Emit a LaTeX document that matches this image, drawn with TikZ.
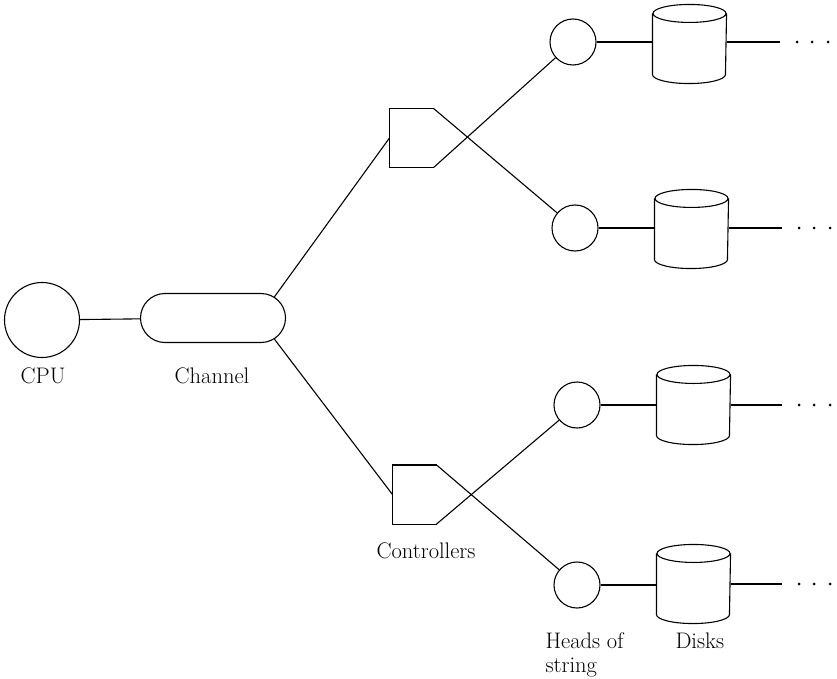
\documentclass[tikz,border=0pt]{standalone}
\usetikzlibrary{shapes.geometric,shapes.misc}
\begin{document}
\begin{tikzpicture}[x=1pt,y=-1pt,line width=1.1pt,
  head/.style={circle,draw,minimum size=46pt,inner sep=0pt},
  cpu/.style={circle,draw,minimum size=75pt,inner sep=0pt},
  disk/.style={rectangle,minimum width=73pt,minimum height=78pt,inner sep=0pt},
  ctrl/.style={rectangle,minimum width=43pt,minimum height=58pt,inner sep=0pt},
  chan/.style={rounded rectangle,draw,minimum width=145pt,minimum height=49pt,inner sep=0pt},
  lbl/.style={font=\fontsize{22.5}{24}\selectfont,inner sep=0pt,anchor=base},
  dot/.style={circle,fill,inner sep=0pt,minimum size=3pt}]
\useasboundingbox (0,0) rectangle (837,679);
% main nodes
\node[cpu] (cpu) at (42,320) {};
\node[chan] (ch) at (213,318) {};
\node[ctrl] (c1) at (411.5,138) {};
\node[ctrl] (c2) at (414.5,494.5) {};
\node[head] (h1) at (573,42) {};
\node[head] (h2) at (575,228) {};
\node[head] (h3) at (577,405) {};
\node[head] (h4) at (577,585) {};
\node[disk] (d1) at (689.5,44) {};
\node[disk] (d2) at (691.5,229) {};
\node[disk] (d3) at (693.5,405) {};
\node[disk] (d4) at (693.5,584) {};
% disk cylinders
\foreach \i in {1,2,3,4}{
  \draw ([yshift=-9pt]d\i.north) ellipse [x radius=36.5pt, y radius=9pt];
  \draw ([yshift=-9pt]d\i.north west) -- ([yshift=9pt]d\i.south west)
        arc [start angle=180, end angle=360, x radius=36.5pt, y radius=9pt]
        -- ([yshift=-9pt]d\i.north east);
}
% controller shapes
\draw (c1.north east) -- (c1.north west) -- (c1.south west) -- (c1.south east);
\draw (c2.north east) -- (c2.north west) -- (c2.south west) -- (c2.south east);
% connectors
\draw (cpu) -- (ch);
\draw (ch.19) -- (c1.west);
\draw (ch.-19) -- (c2.west);
\draw (c1.north east) -- (h2);
\draw (c1.south east) -- (h1);
\draw (c2.north east) -- (h4);
\draw (c2.south east) -- (h3);
\foreach \i in {1,2,3,4}{\draw (h\i) -- (h\i -| d\i.west);}
% outgoing lines with dots
\coordinate (e1) at (780,42);
\coordinate (e2) at (782,228);
\coordinate (e3) at (782,405);
\coordinate (e4) at (782,584);
\foreach \i in {1,2,3,4}{
  \draw (d\i.east |- e\i) -- (e\i);
  \node[dot] at ([xshift=17pt]e\i) {};
  \node[dot] at ([xshift=32pt]e\i) {};
  \node[dot] at ([xshift=48pt]e\i) {};
}
% labels
\node[lbl] (lcpu) at (43,383) {CPU};
\node[lbl] (lch) at (212,383) {Channel};
\node[lbl] (lctl) at (426,558) {Controllers};
\node[lbl,anchor=base west] (lheads) at (545,648) {Heads of};
\node[lbl,anchor=base west] (lstring) at (545,672) {string};
\node[lbl,anchor=base west] (ldisks) at (675,648) {Disks};
\end{tikzpicture}
\end{document}
